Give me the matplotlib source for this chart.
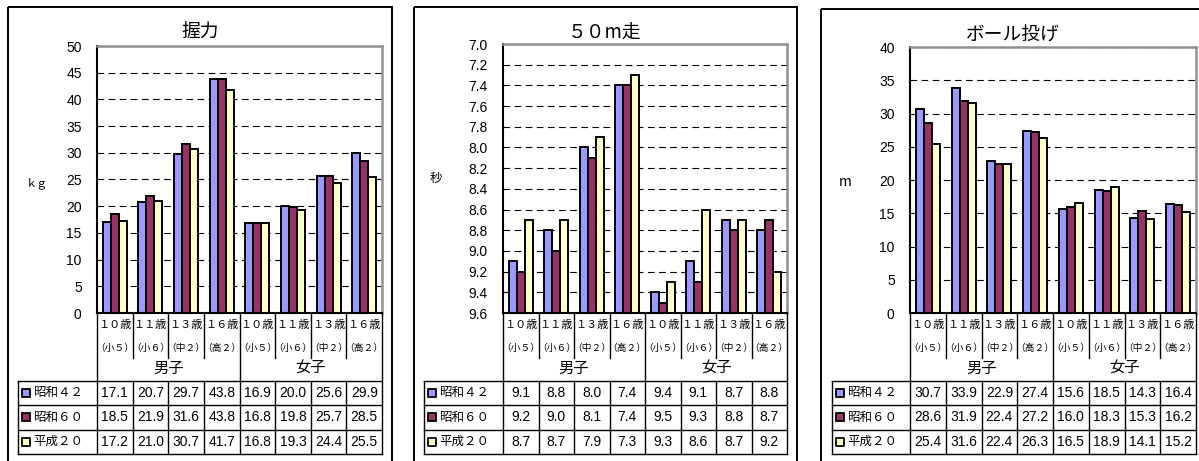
import numpy as np
import matplotlib.pyplot as plt
from matplotlib.patches import Rectangle

plt.rcParams['font.family'] = ['Liberation Sans', 'Noto Sans CJK JP']
JP = ['Noto Sans CJK JP', 'Liberation Sans']

# === data ===
ages = ['１０歳', '１１歳', '１３歳', '１６歳'] * 2
grades = ['（小５）', '（小６）', '（中２）', '（高２）'] * 2
groups = ['男子', '女子']
series = ['昭和４２', '昭和６０', '平成２０']
colors = ['#9999FF', '#993366', '#FFFFCC']

grip_s42 = [17.1, 20.7, 29.7, 43.8, 16.9, 20.0, 25.6, 29.9]
grip_s60 = [18.5, 21.9, 31.6, 43.8, 16.8, 19.8, 25.7, 28.5]
grip_h20 = [17.2, 21.0, 30.7, 41.7, 16.8, 19.3, 24.4, 25.5]

run_s42 = [9.1, 8.8, 8.0, 7.4, 9.4, 9.1, 8.7, 8.8]
run_s60 = [9.2, 9.0, 8.1, 7.4, 9.5, 9.3, 8.8, 8.7]
run_h20 = [8.7, 8.7, 7.9, 7.3, 9.3, 8.6, 8.7, 9.2]

ball_s42 = [30.7, 33.9, 22.9, 27.4, 15.6, 18.5, 14.3, 16.4]
ball_s60 = [28.6, 31.9, 22.4, 27.2, 16.0, 18.3, 15.3, 16.2]
ball_h20 = [25.4, 31.6, 22.4, 26.3, 16.5, 18.9, 14.1, 15.2]

# === layout (pixels) ===
W, H = 1199, 461
fig = plt.figure(figsize=(W / 100, H / 100), dpi=100)

ov = fig.add_axes([0, 0, 1, 1], zorder=10)
ov.set_xlim(0, W)
ov.set_ylim(H, 0)
ov.axis('off')
ov.patch.set_visible(False)

panels = [
    dict(title='握力', unit='ｋｇ', vals=[grip_s42, grip_s60, grip_h20],
         ylim=(0, 50), ticks=np.arange(0, 51, 5), fmt='{:.0f}',
         border=(8, 7, 392), plot=(97, 46, 382, 313), tleft=18,
         title_xy=(200, 32), unit_xy=(37, 183), unit_size=8),
    dict(title='５０m走', unit='秒', vals=[run_s42, run_s60, run_h20],
         ylim=(9.6, 7.0), ticks=np.arange(7.0, 9.61, 0.2), fmt='{:.1f}',
         border=(414, 7, 797), plot=(503, 44, 787, 313), tleft=424,
         title_xy=(605, 33), unit_xy=(436, 178), unit_size=9),
    dict(title='ボール投げ', unit='m', vals=[ball_s42, ball_s60, ball_h20],
         ylim=(0, 40), ticks=np.arange(0, 41, 5), fmt='{:.0f}',
         border=(821, 9, 1230), plot=(910, 47, 1196, 313), tleft=832,
         title_xy=(1013, 35), unit_xy=(845, 182), unit_size=10),
]

row_lines = [380.5, 405, 429.5, 454]
x = np.arange(len(ages))
w = 0.225

for p in panels:
    pl, pt, pr, pb = p['plot']
    ax = fig.add_axes([pl / W, 1 - pb / H, (pr - pl) / W, (pb - pt) / H])
    base = p['ylim'][0]
    for k, (vals, c) in enumerate(zip(p['vals'], colors)):
        ax.bar(x + (k - 1) * w, np.array(vals) - base, w, bottom=base,
               color=c, edgecolor='black', linewidth=1.4)
    ax.set_xlim(-0.5, 7.5)
    ax.set_ylim(*p['ylim'])
    ax.set_xticks([])
    ax.set_yticks(p['ticks'])
    ax.set_yticklabels([p['fmt'].format(t) for t in p['ticks']], fontsize=10)
    ax.tick_params(axis='y', length=0, pad=11)
    ax.grid(axis='y', color='black', linestyle=(0, (6, 4)), linewidth=0.8)
    ax.set_axisbelow(True)
    for s in ['top', 'right']:
        ax.spines[s].set_color('#909090')
        ax.spines[s].set_linewidth(1.8)
    for s in ['left', 'bottom']:
        ax.spines[s].set_color('black')
        ax.spines[s].set_linewidth(1.5)

    # panel border
    bx0, by0, bx1 = p['border']
    ov.add_patch(Rectangle((bx0, by0), bx1 - bx0, 500, fill=False,
                           ec='black', lw=1.4))
    ov.text(*p['title_xy'], p['title'], family=JP, fontsize=13.5,
            ha='center', va='center')
    ov.text(*p['unit_xy'], p['unit'], family=JP, fontsize=p['unit_size'],
            ha='center', va='center')

    # data table under the axis
    cw = (pr - pl) / 8
    tl = p['tleft']
    kw = dict(color='black', lw=1.0)
    for y in row_lines:
        ov.plot([tl, pr], [y, y], **kw)
    ov.plot([tl, tl], [row_lines[0], row_lines[-1]], **kw)
    for xe in [pl, pl + 4 * cw, pr]:
        ov.plot([xe, xe], [pb, row_lines[-1]], **kw)
    for i in [1, 2, 3, 5, 6, 7]:
        xe = pl + i * cw
        ov.plot([xe, xe], [pb, 358], **kw)
        ov.plot([xe, xe], [row_lines[0], row_lines[-1]], **kw)

    for i in range(len(ages)):
        cx = pl + (i + 0.5) * cw
        ov.text(cx, 325, ages[i], family=JP, fontsize=8, ha='center', va='center')
        ov.text(cx, 348, grades[i], family=JP, fontsize=7, ha='center', va='center')
    for g, name in enumerate(groups):
        ov.text(pl + (2 + 4 * g) * cw, 368, name, family=JP, fontsize=11,
                ha='center', va='center')

    for r, (name, vals, c) in enumerate(zip(series, p['vals'], colors)):
        yc = (row_lines[r] + row_lines[r + 1]) / 2
        ov.add_patch(Rectangle((tl + 4, yc - 4), 8, 8, fc=c, ec='black', lw=1.3))
        ov.text(tl + 15, yc, name, family=JP, fontsize=9, ha='left', va='center')
        for i, v in enumerate(vals):
            ov.text(pl + (i + 0.5) * cw, yc, f'{v:.1f}', fontsize=10,
                    ha='center', va='center')

fig.savefig('out.png', dpi=100)
